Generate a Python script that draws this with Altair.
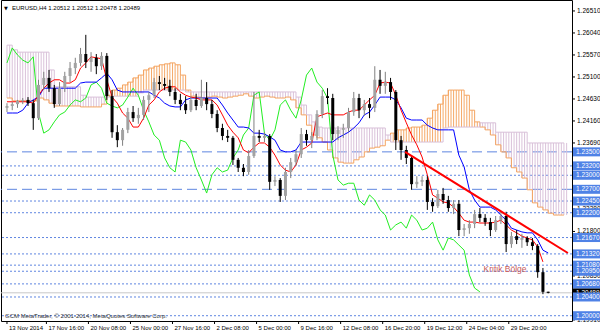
import altair as alt
import pandas as pd

# ---------------- data ----------------
opens = [
1.2444, 1.2448, 1.2452, 1.2459, 1.2461, 1.2454, 1.2422, 1.2493, 1.2508, 1.2486,
1.2452, 1.2486, 1.2512, 1.2529, 1.2540, 1.2559, 1.2542, 1.2551, 1.2533, 1.2555,
1.2469, 1.2392, 1.2375, 1.2397, 1.2435, 1.2422, 1.2429, 1.2461, 1.2471, 1.2499,
1.2495, 1.2491, 1.2478, 1.2461, 1.2452, 1.2439, 1.2461, 1.2448, 1.2465, 1.2452,
1.2431, 1.2401, 1.2384, 1.2380, 1.2333, 1.2316, 1.2307, 1.2341, 1.2384, 1.2380,
1.2384, 1.2286, 1.2290, 1.2256, 1.2307, 1.2328, 1.2345, 1.2388, 1.2375, 1.2384,
1.2431, 1.2469, 1.2465, 1.2388, 1.2397, 1.2401, 1.2435, 1.2465, 1.2439, 1.2452,
1.2444, 1.2504, 1.2491, 1.2499, 1.2478, 1.2375, 1.2354, 1.2337, 1.2281, 1.2286,
1.2290, 1.2243, 1.2234, 1.2260, 1.2247, 1.2230, 1.2239, 1.2183, 1.2187, 1.2196,
1.2217, 1.2209, 1.2200, 1.2183, 1.2204, 1.2213, 1.2153, 1.2170, 1.2162, 1.2166,
1.2157, 1.2149, 1.2093, 1.20512]
highs = [
1.2454, 1.2457, 1.2461, 1.2465, 1.2467, 1.2461, 1.2504, 1.2521, 1.2525, 1.2493,
1.2499, 1.2521, 1.2542, 1.2551, 1.2572, 1.2600, 1.2563, 1.2559, 1.2563, 1.2561,
1.2482, 1.2407, 1.2401, 1.2444, 1.2448, 1.2444, 1.2469, 1.2478, 1.2508, 1.2512,
1.2508, 1.2504, 1.2486, 1.2474, 1.2469, 1.2469, 1.2474, 1.2504, 1.2499, 1.2461,
1.2439, 1.2410, 1.2397, 1.2384, 1.2337, 1.2324, 1.2354, 1.2478, 1.2397, 1.2392,
1.2388, 1.2298, 1.2294, 1.2316, 1.2337, 1.2354, 1.2401, 1.2397, 1.2392, 1.2439,
1.2482, 1.2486, 1.2474, 1.2405, 1.2410, 1.2444, 1.2478, 1.2474, 1.2461, 1.2465,
1.2533, 1.2525, 1.2521, 1.2508, 1.2482, 1.2384, 1.2363, 1.2341, 1.2298, 1.2298,
1.2298, 1.2251, 1.2269, 1.2273, 1.2256, 1.2247, 1.2247, 1.2196, 1.2204, 1.2226,
1.2230, 1.2217, 1.2209, 1.2213, 1.2222, 1.2222, 1.2179, 1.2183, 1.2175, 1.2170,
1.2166, 1.2153, 1.2102, 1.20512]
lows = [
1.2435, 1.2439, 1.2444, 1.2452, 1.2448, 1.2397, 1.2418, 1.2482, 1.2478, 1.2444,
1.2448, 1.2478, 1.2499, 1.2516, 1.2533, 1.2529, 1.2521, 1.2516, 1.2525, 1.2461,
1.2380, 1.2360, 1.2363, 1.2390, 1.2414, 1.2410, 1.2418, 1.2435, 1.2465, 1.2482,
1.2482, 1.2469, 1.2452, 1.2439, 1.2431, 1.2435, 1.2439, 1.2444, 1.2439, 1.2422,
1.2392, 1.2375, 1.2371, 1.2322, 1.2307, 1.2298, 1.2301, 1.2337, 1.2371, 1.2371,
1.2269, 1.2277, 1.2243, 1.2247, 1.2294, 1.2320, 1.2337, 1.2363, 1.2358, 1.2375,
1.2422, 1.2452, 1.2375, 1.2375, 1.2380, 1.2392, 1.2427, 1.2422, 1.2427, 1.2422,
1.2435, 1.2474, 1.2474, 1.2461, 1.2354, 1.2333, 1.2324, 1.2269, 1.2273, 1.2277,
1.2226, 1.2222, 1.2230, 1.2239, 1.2222, 1.2217, 1.2170, 1.2170, 1.2175, 1.2187,
1.2200, 1.2192, 1.2170, 1.2179, 1.2196, 1.2136, 1.2145, 1.2153, 1.2145, 1.2149,
1.2140, 1.2081, 1.2046, 1.20478]
closes = [
1.2448, 1.2452, 1.2459, 1.2461, 1.2454, 1.2422, 1.2493, 1.2508, 1.2486, 1.2452,
1.2486, 1.2512, 1.2529, 1.2540, 1.2559, 1.2542, 1.2551, 1.2533, 1.2555, 1.2469,
1.2392, 1.2375, 1.2397, 1.2435, 1.2422, 1.2429, 1.2461, 1.2471, 1.2499, 1.2495,
1.2491, 1.2478, 1.2461, 1.2452, 1.2439, 1.2461, 1.2448, 1.2465, 1.2452, 1.2431,
1.2401, 1.2384, 1.2380, 1.2333, 1.2316, 1.2307, 1.2341, 1.2384, 1.2380, 1.2384,
1.2286, 1.2290, 1.2256, 1.2307, 1.2328, 1.2345, 1.2388, 1.2375, 1.2384, 1.2431,
1.2469, 1.2465, 1.2388, 1.2397, 1.2401, 1.2435, 1.2465, 1.2439, 1.2452, 1.2444,
1.2504, 1.2491, 1.2499, 1.2478, 1.2375, 1.2354, 1.2337, 1.2281, 1.2286, 1.2290,
1.2243, 1.2234, 1.2260, 1.2247, 1.2230, 1.2239, 1.2183, 1.2187, 1.2196, 1.2217,
1.2209, 1.2200, 1.2183, 1.2204, 1.2213, 1.2153, 1.2170, 1.2162, 1.2166, 1.2157,
1.2149, 1.2093, 1.2051, 1.20489]

tenkan = [
1.2457, 1.2457, 1.2457, 1.2457, 1.2457, 1.2454, 1.2471, 1.2486, 1.2497, 1.2504,
1.2504, 1.2497, 1.2497, 1.2504, 1.2529, 1.2540, 1.2553, 1.2551, 1.2549, 1.2504,
1.2467, 1.2454, 1.2433, 1.2422, 1.2403, 1.2403, 1.2422, 1.2450, 1.2461, 1.2478,
1.2486, 1.2489, 1.2489, 1.2478, 1.2471, 1.2467, 1.2465, 1.2461, 1.2461, 1.2461,
1.2450, 1.2429, 1.2407, 1.2392, 1.2380, 1.2354, 1.2348, 1.2360, 1.2369, 1.2369,
1.2360, 1.2343, 1.2322, 1.2311, 1.2307, 1.2322, 1.2354, 1.2360, 1.2369, 1.2425,
1.2429, 1.2433, 1.2429, 1.2429, 1.2429, 1.2435, 1.2439, 1.2439, 1.2450, 1.2461,
1.2471, 1.2497, 1.2499, 1.2497, 1.2471, 1.2439, 1.2412, 1.2386, 1.2365, 1.2339,
1.2301, 1.2258, 1.2251, 1.2243, 1.2241, 1.2232, 1.2219, 1.2204, 1.2200, 1.2200,
1.2198, 1.2198, 1.2198, 1.2200, 1.2204, 1.2194, 1.2183, 1.2177, 1.2170, 1.2166,
1.2162, 1.2147, 1.2115]
kijun = [
1.2433, 1.2433, 1.2433, 1.2439, 1.2454, 1.2461, 1.2467, 1.2486, 1.2486, 1.2486,
1.2486, 1.2486, 1.2486, 1.2486, 1.2497, 1.2499, 1.2499, 1.2499, 1.2508, 1.2518,
1.2504, 1.2482, 1.2478, 1.2478, 1.2478, 1.2478, 1.2478, 1.2478, 1.2471, 1.2465,
1.2454, 1.2448, 1.2446, 1.2446, 1.2461, 1.2465, 1.2465, 1.2465, 1.2465, 1.2465,
1.2465, 1.2450, 1.2433, 1.2418, 1.2403, 1.2403, 1.2401, 1.2390, 1.2390, 1.2388,
1.2382, 1.2375, 1.2354, 1.2350, 1.2350, 1.2354, 1.2371, 1.2371, 1.2371, 1.2371,
1.2371, 1.2371, 1.2371, 1.2380, 1.2386, 1.2392, 1.2401, 1.2412, 1.2429, 1.2435,
1.2450, 1.2467, 1.2467, 1.2467, 1.2461, 1.2444, 1.2422, 1.2418, 1.2418, 1.2418,
1.2407, 1.2401, 1.2397, 1.2397, 1.2397, 1.2397, 1.2343, 1.2318, 1.2269, 1.2247,
1.2232, 1.2232, 1.2232, 1.2226, 1.2215, 1.2204, 1.2187, 1.2183, 1.2179, 1.2177,
1.2177, 1.2162, 1.2140, 1.2134]
chikou = [
1.2540, 1.2572, 1.2557, 1.2546, 1.2540, 1.2553, 1.2433, 1.2390, 1.2397, 1.2414,
1.2429, 1.2435, 1.2450, 1.2461, 1.2457, 1.2465, 1.2493, 1.2499, 1.2486, 1.2454,
1.2448, 1.2444, 1.2450, 1.2467, 1.2486, 1.2471, 1.2439, 1.2414, 1.2386, 1.2375,
1.2337, 1.2316, 1.2307, 1.2375, 1.2371, 1.2354, 1.2316, 1.2290, 1.2262, 1.2301,
1.2316, 1.2307, 1.2311, 1.2337, 1.2354, 1.2386, 1.2401, 1.2471, 1.2478, 1.2390,
1.2375, 1.2397, 1.2450, 1.2461, 1.2439, 1.2422, 1.2461, 1.2514, 1.2529, 1.2499,
1.2486, 1.2465, 1.2343, 1.2290, 1.2279, 1.2283, 1.2283, 1.2247, 1.2236, 1.2258,
1.2247, 1.2226, 1.2215, 1.2183, 1.2194, 1.2200, 1.2187, 1.2215, 1.2204, 1.2183,
1.2187, 1.2200, 1.2162, 1.2140, 1.2166, 1.2162, 1.2151, 1.2140, 1.2087, 1.2059,
1.2051]
senkou_a = [
1.2465, 1.2459, 1.2459, 1.2459, 1.2459, 1.2459, 1.2465, 1.2461, 1.2454, 1.2448,
1.2448, 1.2448, 1.2448, 1.2448, 1.2446, 1.2446, 1.2446, 1.2446, 1.2452, 1.2471,
1.2482, 1.2486, 1.2493, 1.2499, 1.2508, 1.2514, 1.2525, 1.2529, 1.2533, 1.2536,
1.2538, 1.2540, 1.2536, 1.2514, 1.2482, 1.2469, 1.2467, 1.2465, 1.2467, 1.2469,
1.2467, 1.2465, 1.2467, 1.2469, 1.2471, 1.2474, 1.2469, 1.2465, 1.2467, 1.2469,
1.2467, 1.2465, 1.2465, 1.2467, 1.2461, 1.2444, 1.2429, 1.2407, 1.2386, 1.2380,
1.2371, 1.2354, 1.2337, 1.2328, 1.2326, 1.2326, 1.2333, 1.2339, 1.2350, 1.2358,
1.2360, 1.2363, 1.2375, 1.2390, 1.2397, 1.2397, 1.2401, 1.2403, 1.2403, 1.2407,
1.2422, 1.2439, 1.2452, 1.2471, 1.2482, 1.2482, 1.2482, 1.2471, 1.2439, 1.2414,
1.2403, 1.2397, 1.2386, 1.2365, 1.2350, 1.2337, 1.2316, 1.2307, 1.2294, 1.2269,
1.2241, 1.2232, 1.2226, 1.2219, 1.2215, 1.2215, 1.2215]
senkou_b = [
1.2578, 1.2568, 1.2563, 1.2563, 1.2563, 1.2563, 1.2563, 1.2563, 1.2525, 1.2489,
1.2489, 1.2489, 1.2489, 1.2489, 1.2471, 1.2467, 1.2467, 1.2467, 1.2467, 1.2467,
1.2469, 1.2469, 1.2469, 1.2469, 1.2469, 1.2476, 1.2482, 1.2482, 1.2482, 1.2482,
1.2482, 1.2482, 1.2482, 1.2482, 1.2478, 1.2478, 1.2478, 1.2478, 1.2478, 1.2478,
1.2478, 1.2478, 1.2478, 1.2478, 1.2478, 1.2478, 1.2478, 1.2478, 1.2478, 1.2478,
1.2478, 1.2478, 1.2478, 1.2478, 1.2478, 1.2467, 1.2450, 1.2429, 1.2414, 1.2403,
1.2401, 1.2401, 1.2401, 1.2401, 1.2401, 1.2401, 1.2401, 1.2401, 1.2401, 1.2401,
1.2401, 1.2401, 1.2386, 1.2371, 1.2371, 1.2371, 1.2371, 1.2371, 1.2371, 1.2371,
1.2371, 1.2371, 1.2371, 1.2401, 1.2403, 1.2403, 1.2403, 1.2403, 1.2403, 1.2403,
1.2412, 1.2412, 1.2412, 1.2392, 1.2392, 1.2392, 1.2392, 1.2392, 1.2392, 1.2369,
1.2369, 1.2369, 1.2369, 1.2369, 1.2369, 1.2369, 1.2369]

dash_levels = [1.23500, 1.22700]
dot_levels = [1.23200, 1.23000, 1.22450, 1.22200, 1.21670, 1.21320, 1.21080,
              1.20950, 1.20680, 1.20400, 1.20000]
axis_prices = [1.26510, 1.26040, 1.25570, 1.25100, 1.24630, 1.24160, 1.23690,
               1.22280, 1.21800, 1.20850, 1.19910]
time_bars = [0, 15, 31, 47, 63, 79, 95, 111, 127, 143, 159, 175, 191]
time_labels = ["13 Nov 2014", "17 Nov 16:00", "20 Nov 08:00", "25 Nov 00:00",
               "27 Nov 16:00", "2 Dec 08:00", "5 Dec 00:00", "9 Dec 16:00",
               "12 Dec 08:00", "16 Dec 20:00", "19 Dec 12:00", "24 Dec 04:00",
               "29 Dec 20:00"]
trend_bars = [151.5, 213.5]
trend_prices = [1.2350, 1.2134]
note_bar, note_price, note_text = 181.4, 1.2100, "Kritik Bölge"
title_text = "EURUSD,H4  1.20512 1.20512 1.20478 1.20489"
copyright_text = "GCM MetaTrader, © 2001-2014, MetaQuotes Software Corp."
bid_price = closes[-1]

# ---------------- tables ----------------
STEP = 2  # each drawn candle / indicator sample spans two H4 bars
candles = pd.DataFrame({"bar": [STEP * k for k in range(len(opens))],
                        "open": opens, "high": highs, "low": lows, "close": closes})
candles["col"] = ["#a2a2a2" if c >= o else "#000000" for o, c in zip(opens, closes)]
candles["wcol"] = ["#808080" if c >= o else "#000000" for o, c in zip(opens, closes)]

def series(vals):
    return pd.DataFrame({"bar": [STEP * k for k in range(len(vals))], "v": vals})

cloud = pd.DataFrame({"bar": [STEP * k for k in range(len(senkou_a))],
                      "a": senkou_a, "b": senkou_b})
cloud["col"] = ["#f4a460" if a > b else "#d8bfd8" for a, b in zip(senkou_a, senkou_b)]

W, H = 571, 321
xs = alt.Scale(domain=[-0.374, 213.16], nice=False, zero=False)
ys = alt.Scale(domain=[1.19887, 1.26744], nice=False, zero=False)

def X(f):
    return alt.X(f, type="quantitative", scale=xs, axis=None)

def Y(f):
    return alt.Y(f, type="quantitative", scale=ys, axis=None)

FONT = "Liberation Sans"
LVL = "#5f86e0"
layers = []

# level lines
layers.append(alt.Chart(pd.DataFrame({"p": dot_levels})).mark_rule(
    color=LVL, strokeWidth=1, strokeDash=[2, 2]).encode(y=Y("p")))
layers.append(alt.Chart(pd.DataFrame({"p": dash_levels})).mark_rule(
    color=LVL, strokeWidth=1, strokeDash=[10, 5]).encode(y=Y("p")))
layers.append(alt.Chart(pd.DataFrame({"p": [bid_price]})).mark_rule(
    color="#c8c8c8", strokeWidth=1).encode(y=Y("p")))

# cloud hatch
for off in (0, 2.674):
    layers.append(alt.Chart(cloud).mark_rule(strokeWidth=1, xOffset=off, opacity=0.95).encode(
        x=X("bar"), y=Y("a"), y2=alt.Y2("b"), color=alt.Color("col:N", scale=None)))
layers.append(alt.Chart(cloud).mark_line(color="#f4a460", strokeWidth=1,
                                         interpolate="step-after").encode(x=X("bar"), y=Y("a")))
layers.append(alt.Chart(cloud).mark_line(color="#d8bfd8", strokeWidth=1,
                                         interpolate="step-after").encode(x=X("bar"), y=Y("b")))

# indicator lines
layers.append(alt.Chart(series(chikou)).mark_line(color="#22ee22", strokeWidth=1).encode(
    x=X("bar"), y=Y("v")))
layers.append(alt.Chart(series(kijun)).mark_line(color="#0000ff", strokeWidth=1).encode(
    x=X("bar"), y=Y("v")))
layers.append(alt.Chart(series(tenkan)).mark_line(color="#ff0000", strokeWidth=1).encode(
    x=X("bar"), y=Y("v")))

# candles
layers.append(alt.Chart(candles).mark_rule(strokeWidth=1).encode(
    x=X("bar"), y=Y("low"), y2=alt.Y2("high"), color=alt.Color("wcol:N", scale=None)))
layers.append(alt.Chart(candles).mark_bar(width=3).encode(
    x=X("bar"), y=Y("open"), y2=alt.Y2("close"), color=alt.Color("col:N", scale=None)))

# trend line and note
layers.append(alt.Chart(pd.DataFrame({"bar": trend_bars, "p": trend_prices})).mark_line(
    color="#ff0000", strokeWidth=2, clip=True).encode(x=X("bar"), y=Y("p")))
layers.append(alt.Chart(pd.DataFrame({"bar": [note_bar], "p": [note_price], "t": [note_text]}))
              .mark_text(align="left", baseline="middle", font=FONT, fontSize=8.5,
                         color="#c85a5a").encode(x=X("bar"), y=Y("p"), text="t:N"))

# title and copyright
layers.append(alt.Chart(pd.DataFrame({"t": ["▼"]})).mark_text(
    align="left", baseline="middle", font="DejaVu Sans", fontSize=5, color="#000000").encode(
    x=alt.value(3), y=alt.value(8), text="t:N"))
layers.append(alt.Chart(pd.DataFrame({"t": [title_text]})).mark_text(
    align="left", baseline="middle", font=FONT, fontSize=6, color="#000000").encode(
    x=alt.value(11), y=alt.value(8), text="t:N"))
layers.append(alt.Chart(pd.DataFrame({"t": [copyright_text]})).mark_text(
    align="left", baseline="middle", font=FONT, fontSize=6, color="#333333").encode(
    x=alt.value(4), y=alt.value(316), text="t:N"))

# time axis
tdf = pd.DataFrame({"bar": time_bars, "t": time_labels})
layers.append(alt.Chart(tdf).mark_rule(color="#000000").encode(
    x=X("bar"), y=alt.value(H), y2=alt.value(H + 3)))
layers.append(alt.Chart(tdf).mark_text(align="left", baseline="middle", dx=2, font=FONT,
                                       fontSize=6, color="#000000").encode(
    x=X("bar"), y=alt.value(H + 7), text="t:N"))

# price axis
adf = pd.DataFrame({"p": axis_prices, "t": [f"{p:.5f}" for p in axis_prices]})
layers.append(alt.Chart(adf).mark_rule(color="#000000").encode(
    x=alt.value(W), x2=alt.value(W + 3), y=Y("p")))
layers.append(alt.Chart(adf).mark_text(align="left", baseline="middle", font=FONT,
                                       fontSize=6.5, color="#000000").encode(
    x=alt.value(W + 5), y=Y("p"), text="t:N"))

bdf = pd.DataFrame({"p": [bid_price], "t": [f"{bid_price:.5f}"]})
layers.append(alt.Chart(bdf).mark_rect(color="#000000", yOffset=-4.5, y2Offset=4.5).encode(
    x=alt.value(W + 1), x2=alt.value(W + 29), y=Y("p"), y2=alt.Y2("p")))
layers.append(alt.Chart(bdf).mark_text(align="left", baseline="middle", font=FONT,
                                       fontSize=6.5, color="#ffffff").encode(
    x=alt.value(W + 4), y=Y("p"), text="t:N"))

levels_all = dash_levels + dot_levels
ldf = pd.DataFrame({"p": levels_all, "t": [f"{p:.5f}" for p in levels_all]})
layers.append(alt.Chart(ldf).mark_rect(color="#4f82e6", yOffset=-4.5, y2Offset=4.5).encode(
    x=alt.value(W + 1), x2=alt.value(W + 29), y=Y("p"), y2=alt.Y2("p")))
layers.append(alt.Chart(ldf).mark_text(align="left", baseline="middle", font=FONT,
                                       fontSize=6.5, color="#ffffff").encode(
    x=alt.value(W + 4), y=Y("p"), text="t:N"))

chart = alt.layer(*layers).properties(
    width=W, height=H,
    padding={"left": 1, "top": 0, "right": 28, "bottom": 12},
    autosize=alt.AutoSizeParams(type="none"),
    background="#ffffff",
).configure_view(stroke="#000000", strokeWidth=1)

chart.save("out.html", embed_options={"renderer": "svg", "actions": False})
